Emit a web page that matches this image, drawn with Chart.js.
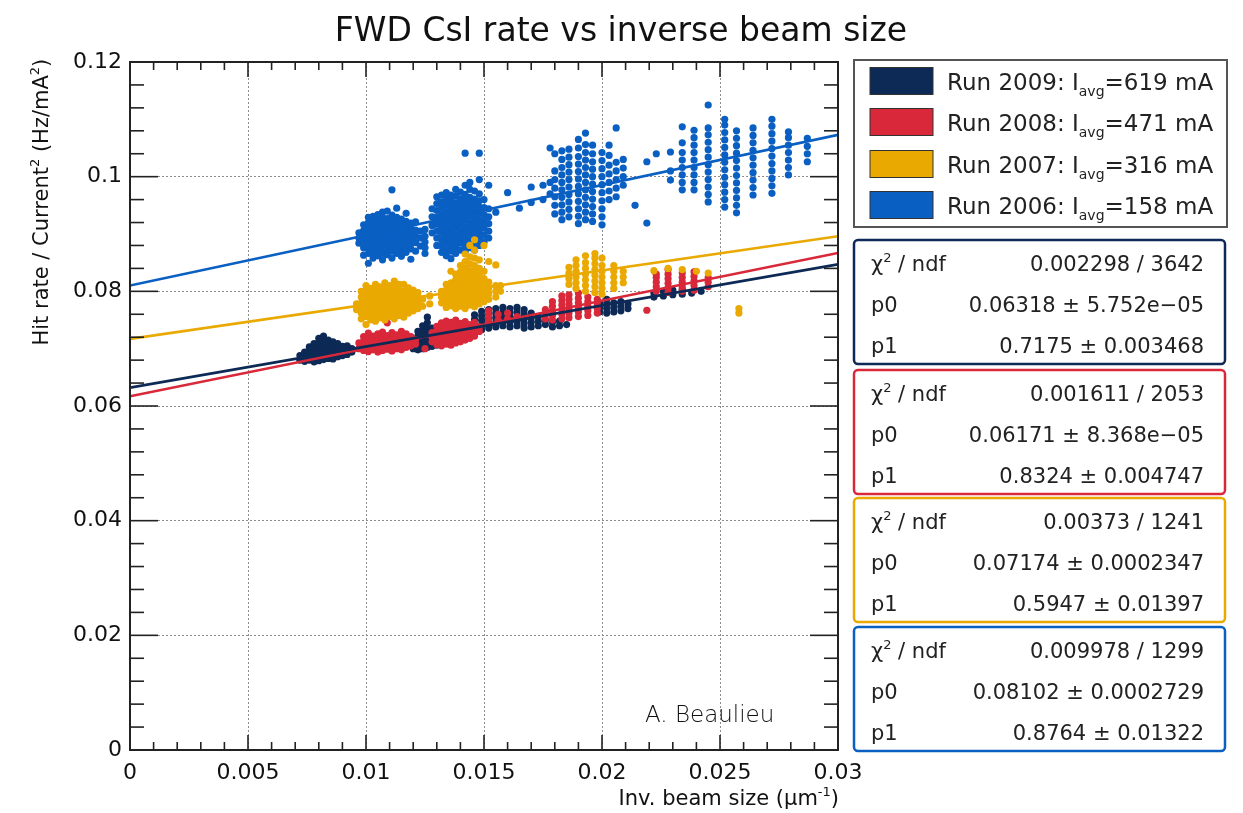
<!DOCTYPE html>
<html><head><meta charset="utf-8">
<script src="https://cdn.jsdelivr.net/npm/chart.js@4/dist/chart.umd.min.js"></script>
<style>html,body{margin:0;padding:0;background:#fff}canvas{display:block}</style>
</head><body>
<canvas id="c" width="1243" height="813"></canvas>
<script>
// ---------------- data ----------------
const chartTitle = 'FWD CsI rate vs inverse beam size';
const runNames = ['Run 2009', 'Run 2008', 'Run 2007', 'Run 2006'];
const runCurrents = ['619', '471', '316', '158'];
const seriesColors = ['#0d2a56', '#d9283a', '#e9a900', '#0a5fc2'];

const chi2Txt = ['0.002298 / 3642', '0.001611 / 2053', '0.00373 / 1241', '0.009978 / 1299'];
const p0Txt = ['0.06318 \u00b1 5.752e\u221205', '0.06171 \u00b1 8.368e\u221205', '0.07174 \u00b1 0.0002347', '0.08102 \u00b1 0.0002729'];
const p1Txt = ['0.7175 \u00b1 0.003468', '0.8324 \u00b1 0.004747', '0.5947 \u00b1 0.01397', '0.8764 \u00b1 0.01322'];

// fit lines (endpoints)
const fitX = [0, 0.03];
const fit2009 = [0.0632, 0.0847];
const fit2008 = [0.0617, 0.0867];
const fit2007 = [0.0717, 0.0896];
const fit2006 = [0.0810, 0.1073];

// scatter points, grouped as [x, [y, y, ...]]
const run2009 = [
 [0.0072,[0.0680,0.0688]],
 [0.0074,[0.0678,0.0686,0.0694]],
 [0.0076,[0.0680,0.0688,0.0696,0.0703]],
 [0.0078,[0.0677,0.0685,0.0693,0.0701,0.0709]],
 [0.0080,[0.0679,0.0687,0.0695,0.0703,0.0711,0.0718]],
 [0.0082,[0.0681,0.0689,0.0697,0.0705,0.0713,0.0722]],
 [0.0084,[0.0683,0.0691,0.0699,0.0707,0.0715]],
 [0.0086,[0.0682,0.0690,0.0698,0.0706,0.0712]],
 [0.0088,[0.0686,0.0694,0.0702,0.0709]],
 [0.0090,[0.0688,0.0696,0.0704]],
 [0.0092,[0.0690,0.0698,0.0705]],
 [0.0094,[0.0694,0.0700]],
 [0.0120,[0.0700,0.0708,0.0716]],
 [0.0122,[0.0698,0.0706,0.0714,0.0722,0.0730]],
 [0.0124,[0.0700,0.0708,0.0716,0.0724,0.0732,0.0740]],
 [0.0126,[0.0702,0.0710,0.0718,0.0726,0.0734,0.0745,0.0755]],
 [0.0128,[0.0704,0.0712,0.0720,0.0728,0.0736]],
 [0.0130,[0.0706,0.0714,0.0722,0.0730]],
 [0.0132,[0.0708,0.0716,0.0724]],
 [0.0134,[0.0712,0.0720]],
 [0.0146,[0.0735,0.0743,0.0751,0.0759]],
 [0.0149,[0.0733,0.0741,0.0749,0.0757,0.0765]],
 [0.0152,[0.0736,0.0744,0.0752,0.0760,0.0768]],
 [0.0155,[0.0738,0.0746,0.0754,0.0762,0.0770]],
 [0.0158,[0.0740,0.0748,0.0756,0.0764,0.0772]],
 [0.0161,[0.0738,0.0746,0.0754,0.0762,0.0770]],
 [0.0164,[0.0740,0.0748,0.0756,0.0764,0.0772]],
 [0.0167,[0.0736,0.0744,0.0752,0.0760,0.0768]],
 [0.0170,[0.0738,0.0746,0.0754,0.0762]],
 [0.0173,[0.0740,0.0748,0.0756]],
 [0.0176,[0.0742,0.0750]],
 [0.0179,[0.0738,0.0746]],
 [0.0182,[0.0740,0.0748]],
 [0.0185,[0.0742]],
 [0.0199,[0.0764,0.0772,0.0780]],
 [0.0202,[0.0762,0.0770,0.0778,0.0786]],
 [0.0205,[0.0764,0.0772,0.0780]],
 [0.0208,[0.0766,0.0774,0.0782]],
 [0.0211,[0.0770,0.0778]],
 [0.0222,[0.0790,0.0797]],
 [0.0226,[0.0792,0.0800]],
 [0.0230,[0.0794,0.0802]],
 [0.0234,[0.0795,0.0803]],
 [0.0238,[0.0797]],
 [0.0242,[0.0800]]
];

const run2008 = [
 [0.0097,[0.0700,0.0710]],
 [0.0099,[0.0697,0.0705,0.0713,0.0721]],
 [0.0101,[0.0695,0.0703,0.0711,0.0719,0.0727]],
 [0.0103,[0.0698,0.0706,0.0714,0.0722]],
 [0.0105,[0.0694,0.0702,0.0710,0.0718,0.0726]],
 [0.0107,[0.0697,0.0705,0.0713,0.0721,0.0729]],
 [0.0109,[0.0699,0.0707,0.0715,0.0723,0.0745]],
 [0.0111,[0.0696,0.0704,0.0712,0.0720,0.0728]],
 [0.0113,[0.0700,0.0708,0.0716,0.0724]],
 [0.0115,[0.0698,0.0706,0.0714,0.0722,0.0730]],
 [0.0117,[0.0702,0.0710,0.0718,0.0726]],
 [0.0119,[0.0705,0.0713,0.0721]],
 [0.0121,[0.0708,0.0716]],
 [0.0125,[0.0700]],
 [0.0128,[0.0712,0.0720,0.0728]],
 [0.0130,[0.0707,0.0715,0.0723,0.0731,0.0739]],
 [0.0132,[0.0705,0.0713,0.0721,0.0729,0.0737,0.0745]],
 [0.0134,[0.0708,0.0716,0.0724,0.0732,0.0740,0.0748]],
 [0.0136,[0.0706,0.0714,0.0722,0.0730,0.0738,0.0746]],
 [0.0138,[0.0710,0.0718,0.0726,0.0734,0.0742,0.0750]],
 [0.0140,[0.0712,0.0720,0.0728,0.0736,0.0744]],
 [0.0142,[0.0715,0.0723,0.0731,0.0739,0.0747]],
 [0.0144,[0.0718,0.0726,0.0734,0.0742]],
 [0.0146,[0.0722,0.0730,0.0738,0.0746]],
 [0.0148,[0.0730,0.0738]],
 [0.0152,[0.0748,0.0758,0.0766]],
 [0.0156,[0.0750,0.0760]],
 [0.0160,[0.0752,0.0762]],
 [0.0164,[0.0756]],
 [0.0176,[0.0752,0.0760,0.0768]],
 [0.0179,[0.0750,0.0758,0.0766,0.0774,0.0782]],
 [0.0183,[0.0752,0.0760,0.0768,0.0776,0.0784,0.0792]],
 [0.0186,[0.0754,0.0762,0.0770,0.0778,0.0786,0.0794]],
 [0.0190,[0.0756,0.0764,0.0772,0.0780,0.0788,0.0797]],
 [0.0194,[0.0758,0.0766,0.0774,0.0782,0.0790]],
 [0.0198,[0.0762,0.0770,0.0778,0.0786]],
 [0.0219,[0.0767]],
 [0.0223,[0.0800,0.0808,0.0816,0.0824,0.0830]],
 [0.0228,[0.0798,0.0806,0.0814,0.0822,0.0830,0.0838]],
 [0.0234,[0.0800,0.0808,0.0816,0.0824,0.0832]],
 [0.0239,[0.0802,0.0810,0.0818,0.0826,0.0834]],
 [0.0245,[0.0808,0.0816,0.0824]]
];

const run2007 = [
 [0.0096,[0.0768,0.0778]],
 [0.0098,[0.0752,0.0762,0.0771,0.0780,0.0790,0.0800]],
 [0.0100,[0.0742,0.0756,0.0765,0.0774,0.0783,0.0792,0.0801,0.0810]],
 [0.0102,[0.0750,0.0760,0.0769,0.0778,0.0787,0.0796,0.0805]],
 [0.0104,[0.0748,0.0758,0.0767,0.0776,0.0785,0.0794,0.0803,0.0812]],
 [0.0106,[0.0754,0.0763,0.0772,0.0781,0.0790,0.0799,0.0808]],
 [0.0108,[0.0750,0.0760,0.0769,0.0778,0.0787,0.0796,0.0805,0.0815]],
 [0.0110,[0.0756,0.0765,0.0774,0.0783,0.0792,0.0801,0.0810]],
 [0.0112,[0.0752,0.0762,0.0771,0.0780,0.0789,0.0798,0.0807,0.0818]],
 [0.0114,[0.0758,0.0767,0.0776,0.0785,0.0794,0.0803,0.0812]],
 [0.0116,[0.0755,0.0764,0.0773,0.0782,0.0791,0.0800,0.0812]],
 [0.0118,[0.0762,0.0771,0.0780,0.0789,0.0798,0.0806]],
 [0.0120,[0.0766,0.0775,0.0784,0.0793,0.0802]],
 [0.0122,[0.0770,0.0780,0.0790,0.0798]],
 [0.0124,[0.0774,0.0786]],
 [0.0127,[0.0778,0.0792]],
 [0.0132,[0.0780,0.0790,0.0800]],
 [0.0134,[0.0772,0.0782,0.0792,0.0802,0.0812]],
 [0.0136,[0.0775,0.0785,0.0795,0.0805,0.0815,0.0835]],
 [0.0138,[0.0770,0.0780,0.0790,0.0800,0.0810,0.0820,0.0830]],
 [0.0140,[0.0774,0.0784,0.0794,0.0804,0.0814,0.0824,0.0834,0.0845]],
 [0.0142,[0.0770,0.0780,0.0790,0.0800,0.0810,0.0820,0.0830,0.0840,0.0852,0.0865]],
 [0.0144,[0.0776,0.0786,0.0796,0.0806,0.0816,0.0826,0.0836,0.0848,0.0860,0.0880]],
 [0.0146,[0.0773,0.0783,0.0793,0.0803,0.0813,0.0823,0.0833,0.0845,0.0858,0.0872,0.0890]],
 [0.0148,[0.0778,0.0788,0.0798,0.0808,0.0818,0.0828,0.0840,0.0855]],
 [0.0150,[0.0782,0.0792,0.0802,0.0812,0.0822,0.0835,0.0880]],
 [0.0152,[0.0786,0.0796,0.0806,0.0816,0.0852]],
 [0.0155,[0.0790,0.0800,0.0810,0.0846]],
 [0.0157,[0.0800,0.0810]],
 [0.0186,[0.0812,0.0822,0.0832,0.0842]],
 [0.0189,[0.0805,0.0815,0.0825,0.0835,0.0845,0.0855]],
 [0.0193,[0.0800,0.0810,0.0820,0.0830,0.0840,0.0850,0.0862]],
 [0.0197,[0.0798,0.0808,0.0818,0.0828,0.0838,0.0848,0.0858,0.0866]],
 [0.0200,[0.0795,0.0805,0.0815,0.0825,0.0835,0.0845,0.0858]],
 [0.0205,[0.0805,0.0815,0.0825,0.0835,0.0845]],
 [0.0209,[0.0815,0.0825,0.0835]],
 [0.0222,[0.0836]],
 [0.0228,[0.0840]],
 [0.0234,[0.0838]],
 [0.0240,[0.0835]],
 [0.0245,[0.0832]],
 [0.0258,[0.0762,0.0770]]
];

const run2006 = [
 [0.0097,[0.0884,0.0893,0.0902]],
 [0.0099,[0.0863,0.0876,0.0887,0.0897,0.0906,0.0916]],
 [0.0101,[0.0849,0.0866,0.0875,0.0884,0.0893,0.0902,0.0911,0.0920,0.0929]],
 [0.0103,[0.0858,0.0868,0.0877,0.0886,0.0895,0.0904,0.0913,0.0922,0.0931]],
 [0.0105,[0.0862,0.0871,0.0880,0.0889,0.0898,0.0907,0.0916,0.0925,0.0934]],
 [0.0107,[0.0855,0.0866,0.0875,0.0884,0.0893,0.0902,0.0911,0.0920,0.0929,0.0938]],
 [0.0109,[0.0864,0.0873,0.0882,0.0891,0.0900,0.0909,0.0918,0.0927,0.0940]],
 [0.0111,[0.0858,0.0870,0.0879,0.0888,0.0897,0.0906,0.0915,0.0924,0.0933,0.0977]],
 [0.0113,[0.0866,0.0875,0.0884,0.0893,0.0902,0.0911,0.0920,0.0929,0.0945]],
 [0.0115,[0.0861,0.0872,0.0881,0.0890,0.0899,0.0908,0.0917,0.0926]],
 [0.0117,[0.0868,0.0877,0.0886,0.0895,0.0904,0.0913,0.0922,0.0936]],
 [0.0119,[0.0856,0.0874,0.0883,0.0892,0.0901,0.0910,0.0919]],
 [0.0121,[0.0870,0.0885,0.0896,0.0907,0.0921]],
 [0.0123,[0.0879,0.0893,0.0905]],
 [0.0125,[0.0866,0.0876,0.0886,0.0896,0.0908]],
 [0.0128,[0.0902,0.0915,0.0930,0.0944]],
 [0.0130,[0.0880,0.0893,0.0905,0.0917,0.0929,0.0941,0.0953,0.0965]],
 [0.0132,[0.0868,0.0879,0.0890,0.0901,0.0912,0.0923,0.0934,0.0945,0.0956,0.0968]],
 [0.0134,[0.0862,0.0873,0.0884,0.0895,0.0906,0.0917,0.0928,0.0939,0.0950,0.0961,0.0972]],
 [0.0136,[0.0857,0.0870,0.0881,0.0892,0.0903,0.0914,0.0925,0.0936,0.0947,0.0958,0.0968]],
 [0.0138,[0.0866,0.0877,0.0888,0.0899,0.0910,0.0921,0.0932,0.0943,0.0954,0.0966,0.0978]],
 [0.0140,[0.0872,0.0884,0.0895,0.0906,0.0917,0.0928,0.0939,0.0950,0.0961,0.0973]],
 [0.0142,[0.0869,0.0880,0.0891,0.0902,0.0913,0.0924,0.0935,0.0946,0.0957,0.0969,0.0985,0.1041]],
 [0.0144,[0.0876,0.0887,0.0898,0.0909,0.0920,0.0931,0.0942,0.0953,0.0964,0.0978,0.0990]],
 [0.0146,[0.0872,0.0884,0.0895,0.0906,0.0917,0.0928,0.0939,0.0950,0.0961,0.0975]],
 [0.0148,[0.0880,0.0892,0.0903,0.0914,0.0925,0.0936,0.0947,0.0958,0.0970,0.0995,0.1041]],
 [0.0150,[0.0886,0.0898,0.0910,0.0922,0.0934,0.0946,0.0960]],
 [0.0152,[0.0893,0.0905,0.0918,0.0930,0.0944,0.0985]],
 [0.0155,[0.0938]],
 [0.0160,[0.0972]],
 [0.0165,[0.0945]],
 [0.0170,[0.0982,0.0955]],
 [0.0175,[0.0960,0.0985]],
 [0.0178,[0.1050,0.0990,0.0970]],
 [0.0180,[0.0935,0.0950,0.0965,0.0980,0.0995,0.1010,0.1040]],
 [0.0183,[0.0925,0.0938,0.0951,0.0964,0.0977,0.0990,0.1003,0.1016,0.1030,0.1045]],
 [0.0186,[0.0930,0.0943,0.0956,0.0969,0.0982,0.0995,0.1008,0.1021,0.1034,0.1048]],
 [0.0190,[0.0918,0.0931,0.0944,0.0957,0.0970,0.0983,0.0996,0.1009,0.1022,0.1035,0.1050,0.1065]],
 [0.0193,[0.0925,0.0938,0.0951,0.0964,0.0977,0.0990,0.1003,0.1016,0.1029,0.1042,0.1056,0.1076]],
 [0.0196,[0.0922,0.0935,0.0948,0.0961,0.0974,0.0987,0.1000,0.1013,0.1026,0.1040,0.1055]],
 [0.0200,[0.0916,0.0930,0.0944,0.0958,0.0972,0.0986,0.1000,0.1014,0.1028,0.1042]],
 [0.0203,[0.0960,0.0975,0.0990,0.1005,0.1020,0.1037,0.1055]],
 [0.0206,[0.0965,0.0980,0.0995,0.1010,0.1025,0.1085]],
 [0.0209,[0.0985,0.1000,0.1015,0.1030]],
 [0.0214,[0.0950]],
 [0.0219,[0.1026,0.0919]],
 [0.0223,[0.1040]],
 [0.0229,[0.1043,0.0994,0.1010]],
 [0.0234,[0.0977,0.0990,0.1003,0.1016,0.1029,0.1042,0.1059,0.1087]],
 [0.0239,[0.0977,0.0990,0.1003,0.1016,0.1029,0.1042,0.1055,0.1068,0.1081]],
 [0.0245,[0.0956,0.0969,0.0982,0.0995,0.1008,0.1021,0.1034,0.1047,0.1060,0.1073,0.1085,0.1125]],
 [0.0252,[0.0947,0.0960,0.0973,0.0986,0.0999,0.1012,0.1025,0.1038,0.1051,0.1064,0.1077,0.1090,0.1100]],
 [0.0257,[0.0937,0.0950,0.0963,0.0976,0.0989,0.1002,0.1015,0.1028,0.1041,0.1054,0.1067,0.1080]],
 [0.0264,[0.0968,0.0981,0.0994,0.1007,0.1020,0.1033,0.1046,0.1059,0.1072,0.1085]],
 [0.0272,[0.0971,0.0984,0.0997,0.1010,0.1023,0.1036,0.1049,0.1062,0.1075,0.1088,0.1100]],
 [0.0279,[0.1003,0.1016,0.1029,0.1042,0.1055,0.1068,0.1078]],
 [0.0287,[0.1026,0.1040,0.1053,0.1067]]
];

// ---------------- chart ----------------
const FONT = "'DejaVu Sans', 'Liberation Sans', Arial, sans-serif";
const toPoints = groups => groups.flatMap(([x, ys]) => ys.map(y => ({x, y})));
const toLine = ys => fitX.map((x, i) => ({x, y: ys[i]}));
const fmt = v => String(+Number(v).toFixed(4));

const pointSets = [run2009, run2008, run2007, run2006];
const pointOrder = [3, 2, 1, 4];
const fits = [fit2009, fit2008, fit2007, fit2006];

const datasets = [];
fits.forEach((f, i) => datasets.push({
  label: runNames[i] + ' fit', data: toLine(f), showLine: true, borderColor: seriesColors[i],
  borderWidth: 2.6, pointRadius: 0, fill: false, order: 0
}));
pointSets.forEach((g, i) => datasets.push({
  label: runNames[i], data: toPoints(g), backgroundColor: seriesColors[i], borderWidth: 0,
  pointRadius: 3.6, pointHoverRadius: 3.6, order: pointOrder[i]
}));

function richWidth(ctx, parts, size) {
  let w = 0;
  parts.forEach(p => { ctx.font = ((p[1] ? size * 0.6 : size) | 0) + 'px ' + FONT; w += ctx.measureText(p[0]).width; });
  return w;
}
function rich(ctx, parts, x, y, align, size, weight) {
  const w = richWidth(ctx, parts, size);
  let cx = align === 'right' ? x - w : align === 'center' ? x - w / 2 : x;
  ctx.textAlign = 'left';
  ctx.textBaseline = 'alphabetic';
  parts.forEach(p => {
    const s = p[1] ? Math.round(size * 0.6) : size;
    ctx.font = (weight ? weight + ' ' : '') + s + 'px ' + FONT;
    const dy = p[1] === 1 ? -size * 0.42 : p[1] === -1 ? size * 0.3 : 0;
    ctx.fillText(p[0], cx, y + dy);
    cx += ctx.measureText(p[0]).width;
  });
}

const decor = {
  id: 'decor',
  afterDraw(chart) {
    const ctx = chart.ctx, a = chart.chartArea, xs = chart.scales.x, ys = chart.scales.y;
    ctx.save();
    // ticks
    ctx.strokeStyle = '#222'; ctx.lineWidth = 1.6;
    const seg = (x1, y1, x2, y2) => { ctx.beginPath(); ctx.moveTo(x1, y1); ctx.lineTo(x2, y2); ctx.stroke(); };
    for (let k = 0; k <= 30; k++) {
      const px = xs.getPixelForValue(k / 1000);
      const L = k % 5 === 0 ? 15 : 8;
      seg(px, a.bottom, px, a.bottom - L);
      seg(px, a.top, px, a.top + L);
    }
    for (let k = 0; k <= 30; k++) {
      const py = ys.getPixelForValue(k * 0.004);
      const L = k % 5 === 0 ? 28 : 14;
      seg(a.left, py, a.left + L, py);
      seg(a.right, py, a.right - L, py);
    }
    // frame
    ctx.lineWidth = 2; ctx.strokeStyle = '#222';
    ctx.strokeRect(a.left, a.top, a.right - a.left, a.bottom - a.top);

    ctx.fillStyle = '#111';
    // title
    ctx.font = '33px ' + FONT; ctx.textAlign = 'center'; ctx.textBaseline = 'alphabetic';
    ctx.fillText(chartTitle, 621, 41);
    // x title
    rich(ctx, [['Inv. beam size (\u03bcm', 0], ['-1', 1], [')', 0]], a.right, 805, 'right', 21);
    // y title
    ctx.save();
    ctx.translate(48, 60); ctx.rotate(-Math.PI / 2);
    rich(ctx, [['Hit rate / Current', 0], ['2', 1], [' (Hz/mA', 0], ['2', 1], [')', 0]], 0, 0, 'right', 21);
    ctx.restore();
    // signature
    ctx.fillStyle = '#111';
    rich(ctx, [['A. Beaulieu', 0]], 645, 722, 'left', 23, '200');

    // legend box
    ctx.lineWidth = 2; ctx.strokeStyle = '#555';
    ctx.strokeRect(854, 60, 373, 167);
    const rowsY = [81, 122, 164, 205];
    runNames.forEach((n, i) => {
      const cy = rowsY[i];
      ctx.fillStyle = seriesColors[i];
      ctx.fillRect(870, cy - 13.5, 63, 27);
      ctx.lineWidth = 1; ctx.strokeStyle = '#333';
      ctx.strokeRect(870, cy - 13.5, 63, 27);
      ctx.fillStyle = '#222';
      rich(ctx, [[n + ': I', 0], ['avg', -1], ['=' + runCurrents[i] + ' mA', 0]], 947, cy + 8.5, 'left', 23);
    });

    // stats boxes
    const tops = [240, 370, 498, 627];
    tops.forEach((t, i) => {
      ctx.lineWidth = 2.5; ctx.strokeStyle = seriesColors[i];
      ctx.beginPath();
      if (ctx.roundRect) ctx.roundRect(854, t, 371, 124, 4); else ctx.rect(854, t, 371, 124);
      ctx.stroke();
      ctx.fillStyle = '#222';
      rich(ctx, [['\u03c7', 0], ['2', 1], [' / ndf', 0]], 871, t + 31, 'left', 21);
      rich(ctx, [['p0', 0]], 871, t + 72, 'left', 21);
      rich(ctx, [['p1', 0]], 871, t + 113, 'left', 21);
      rich(ctx, [[chi2Txt[i], 0]], 1204, t + 31, 'right', 21);
      rich(ctx, [[p0Txt[i], 0]], 1204, t + 72, 'right', 21);
      rich(ctx, [[p1Txt[i], 0]], 1204, t + 113, 'right', 21);
    });
    ctx.restore();
  }
};

new Chart(document.getElementById('c'), {
  type: 'scatter',
  data: { datasets },
  options: {
    responsive: false, animation: false, devicePixelRatio: 1,
    layout: { padding: { left: 0, top: 62, right: 405, bottom: 0 } },
    plugins: { legend: { display: false }, tooltip: { enabled: false }, title: { display: false } },
    elements: { line: { tension: 0 } },
    scales: {
      x: {
        type: 'linear', min: 0, max: 0.03,
        afterFit(s) { s.height = 63; },
        ticks: { stepSize: 0.005, autoSkip: false, maxRotation: 0, padding: 10, color: '#111',
                 font: { family: FONT, size: 22 }, callback: v => fmt(v) },
        grid: { color: '#8c8c8c', lineWidth: 1, drawTicks: false },
        border: { display: false, dash: [2, 2] }
      },
      y: {
        type: 'linear', min: 0, max: 0.12,
        afterFit(s) { s.width = 130; },
        ticks: { stepSize: 0.02, autoSkip: false, padding: 8, color: '#111',
                 font: { family: FONT, size: 22 }, callback: v => fmt(v) },
        grid: { color: '#8c8c8c', lineWidth: 1, drawTicks: false },
        border: { display: false, dash: [2, 2] }
      }
    }
  },
  plugins: [decor]
});
</script>
</body></html>
